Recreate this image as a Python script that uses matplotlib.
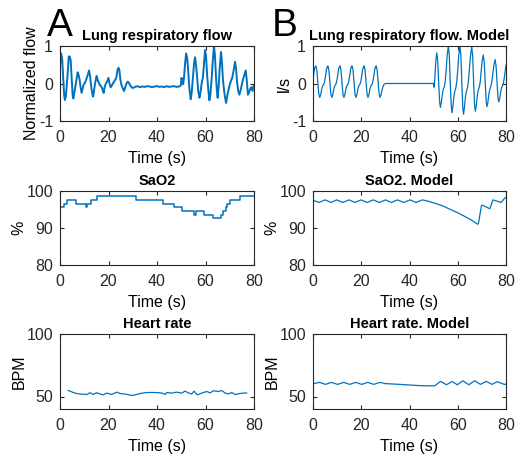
import matplotlib
matplotlib.use("Agg")
import matplotlib.pyplot as plt

# --- data ---
flow_meas_t = [0.0, 0.2, 0.5, 0.9, 1.3, 1.7, 2.0, 2.4, 2.8, 3.2, 3.6, 4.0, 4.4, 4.8, 5.2,
               5.5, 5.9, 6.4, 6.9, 7.3, 7.7, 8.1, 8.5, 8.9, 9.3, 9.8, 10.3, 10.8, 11.4,
               12.0, 12.4, 12.9, 13.4, 13.7, 14.1, 14.6, 15.1, 15.5, 16.0, 16.5, 17.0,
               17.5, 18.0, 18.4, 18.9, 19.4, 20.0, 20.4, 20.9, 21.4, 22.0, 22.6, 23.2,
               23.7, 24.1, 24.5, 24.9, 25.4, 26.0, 26.4, 26.9, 27.4, 27.9, 28.4, 29.0,
               29.5, 30.0, 31.0, 32.0, 33.0, 34.0, 35.0, 36.0, 37.0, 38.0, 39.0, 40.0,
               41.0, 42.0, 43.0, 44.0, 45.0, 46.0, 47.0, 48.0, 49.0, 49.5, 49.8, 50.1,
               50.4, 50.8, 51.2, 51.6, 52.0, 52.4, 52.8, 53.3, 53.9, 54.3, 54.8, 55.3,
               55.7, 56.1, 56.6, 57.0, 57.5, 57.9, 58.4, 58.9, 59.3, 59.8, 60.2, 60.7,
               61.2, 61.6, 62.0, 62.5, 63.0, 63.5, 63.9, 64.3, 64.7, 65.0, 65.4, 65.9,
               66.4, 66.8, 67.2, 67.6, 68.0, 68.5, 68.9, 69.4, 69.9, 70.4, 71.0, 71.6,
               72.2, 72.6, 73.0, 73.5, 74.0, 74.4, 74.9, 75.4, 75.9, 76.6, 77.0, 77.5,
               77.9, 78.4, 78.9, 79.4, 79.8, 80.0]
flow_meas_v = [0.35, 0.80, 0.80, 0.65, 0.15, -0.30, -0.44, -0.35, -0.05, 0.30, 0.72, 0.72,
               0.62, 0.15, -0.30, -0.40, -0.25, -0.05, 0.15, 0.30, 0.22, 0.10, -0.10,
               -0.25, -0.15, -0.02, 0.02, 0.10, 0.22, 0.35, 0.20, -0.10, -0.30, -0.35,
               -0.15, 0.05, 0.20, 0.10, 0.02, -0.05, -0.08, -0.15, -0.25, -0.10, 0.00,
               0.05, 0.15, 0.00, -0.10, -0.05, 0.02, 0.08, 0.15, 0.35, 0.42, 0.35, 0.10,
               -0.05, -0.15, -0.20, -0.10, 0.00, 0.05, 0.02, -0.05, -0.10, -0.12, -0.09,
               -0.07, -0.10, -0.08, -0.09, -0.07, -0.08, -0.10, -0.08, -0.07, -0.09,
               -0.08, -0.10, -0.07, -0.09, -0.08, -0.07, -0.09, -0.08, -0.07, -0.05,
               0.15, 0.05, -0.02, 0.20, 0.55, 0.80, 0.70, 0.40, -0.10, -0.42, -0.25,
               0.15, 0.55, 0.70, 0.50, 0.10, -0.20, -0.38, -0.25, 0.00, 0.15, 0.45,
               0.89, 0.75, 0.20, -0.20, -0.45, -0.30, 0.10, 0.60, 1.00, 0.75, 0.20,
               -0.20, -0.38, -0.10, 0.45, 0.84, 0.55, 0.10, -0.15, -0.35, -0.52, -0.35,
               -0.20, -0.05, 0.05, 0.15, 0.35, 0.58, 0.40, 0.05, -0.20, -0.30, -0.20,
               -0.05, 0.10, 0.20, 0.35, 0.10, -0.30, -0.25, -0.15, -0.10, -0.20, -0.08,
               -0.05]

flow_model_t = [0.0, 0.4, 0.8, 1.2, 1.6, 2.0, 2.4, 2.8, 3.2, 3.6, 4.0, 4.4, 4.8, 5.2, 5.6,
                6.0, 6.2, 6.6, 7.0, 7.4, 7.8, 8.2, 8.6, 9.0, 9.4, 9.8, 10.2, 10.6, 11.0,
                11.2, 11.6, 12.0, 12.4, 12.8, 13.2, 13.6, 14.0, 14.4, 14.8, 15.2, 15.6,
                16.0, 16.2, 16.6, 17.0, 17.4, 17.8, 18.2, 18.6, 19.0, 19.4, 19.8, 20.2,
                20.6, 21.0, 21.2, 21.6, 22.0, 22.4, 22.8, 23.2, 23.6, 24.0, 24.4, 24.8,
                25.2, 25.6, 26.0, 26.2, 26.6, 27.0, 27.4, 27.8, 28.2, 28.6, 29.0, 29.5,
                30.0, 50.0, 50.2, 50.5, 50.9, 51.3, 51.7, 52.1, 52.5, 52.8, 53.2, 53.6,
                54.0, 54.4, 54.8, 55.2, 55.6, 56.1, 56.5, 56.9, 57.3, 57.6, 58.0, 58.4,
                58.8, 59.2, 59.6, 60.0, 60.4, 60.9, 61.3, 61.7, 62.1, 62.4, 62.8, 63.2,
                63.6, 64.0, 64.4, 64.8, 65.3, 65.8, 66.2, 66.6, 67.0, 67.3, 67.7, 68.1,
                68.5, 68.9, 69.3, 69.7, 70.1, 70.6, 71.0, 71.4, 71.8, 72.1, 72.5, 72.9,
                73.3, 73.7, 74.1, 74.5, 75.0, 75.5, 75.9, 76.3, 76.7, 77.0, 77.4, 77.8,
                78.2, 78.6, 79.0, 79.4, 80.0]
flow_model_v = [0.10, 0.30, 0.44, 0.47, 0.35, 0.05, -0.28, -0.37, -0.30, -0.15, -0.06,
                -0.03, 0.05, 0.20, 0.38, 0.46, 0.47, 0.35, 0.05, -0.28, -0.37, -0.30,
                -0.15, -0.06, -0.03, 0.05, 0.20, 0.38, 0.46, 0.47, 0.35, 0.05, -0.28,
                -0.37, -0.30, -0.15, -0.06, -0.03, 0.05, 0.20, 0.38, 0.46, 0.47, 0.35,
                0.05, -0.28, -0.37, -0.30, -0.15, -0.06, -0.03, 0.05, 0.20, 0.38, 0.46,
                0.47, 0.35, 0.05, -0.28, -0.37, -0.30, -0.15, -0.06, -0.03, 0.05, 0.20,
                0.38, 0.46, 0.47, 0.35, 0.05, -0.28, -0.37, -0.30, -0.18, -0.08, -0.02,
                0.00, 0.00, -0.10, 0.15, 0.60, 0.82, 0.60, 0.00, -0.50, -0.64, -0.50,
                -0.30, -0.15, -0.10, 0.05, 0.35, 0.75, 1.00, 0.75, 0.00, -0.60, -0.78,
                -0.60, -0.35, -0.20, -0.12, 0.05, 0.35, 0.75, 1.00, 0.75, 0.00, -0.65,
                -0.82, -0.62, -0.35, -0.20, -0.12, 0.05, 0.35, 0.75, 0.98, 0.72, 0.00,
                -0.60, -0.74, -0.58, -0.32, -0.18, -0.10, 0.03, 0.30, 0.60, 0.76, 0.55,
                0.00, -0.50, -0.62, -0.50, -0.28, -0.15, -0.08, 0.03, 0.25, 0.50, 0.64,
                0.45, 0.00, -0.40, -0.49, -0.40, -0.22, -0.10, -0.05, 0.03, 0.20, 0.49]

sao2_meas_t = [0.0, 1.8, 3.0, 6.5, 10.7, 11.3, 12.6, 15.4, 31.3, 42.3, 47.1, 50.4, 55.4,
               56.1, 59.4, 63.2, 66.4, 67.4, 68.3, 68.7, 70.1, 74.2, 80.0]
sao2_meas_v = [95.6, 96.6, 97.6, 96.6, 95.6, 96.6, 97.6, 98.6, 97.6, 96.6, 95.6, 94.6,
               93.6, 94.6, 93.6, 92.6, 93.6, 94.6, 95.6, 96.6, 97.6, 98.6, 98.6]

sao2_model_t = [0.0, 2.5, 5.0, 7.5, 9.8, 12.4, 14.9, 17.4, 19.9, 22.5, 25.0, 27.5, 30.1,
                32.5, 35.0, 37.6, 40.2, 42.7, 45.3, 48.0, 51.0, 54.0, 57.0, 60.0, 63.0,
                66.0, 68.3, 68.6, 69.8, 70.2, 73.3, 74.6, 78.0, 79.4, 80.0]
sao2_model_v = [97.5, 96.9, 97.6, 96.9, 97.6, 96.9, 97.6, 96.9, 97.6, 96.9, 97.6, 96.9,
                97.6, 96.9, 97.6, 96.9, 97.6, 96.9, 97.6, 97.2, 96.6, 95.9, 95.0, 94.1,
                93.1, 92.0, 91.0, 91.3, 96.0, 96.2, 95.2, 97.6, 96.9, 98.0, 98.3]

hr_meas_t = [3.4, 6.2, 8.2, 11.0, 12.4, 13.7, 15.1, 16.5, 17.9, 19.2, 21.3, 23.4, 24.8,
             26.8, 29.6, 31.6, 33.0, 35.7, 38.5, 41.2, 42.6, 43.3, 44.0, 46.0, 48.1,
             50.2, 51.6, 52.9, 54.3, 55.3, 56.6, 58.4, 60.5, 61.9, 63.2, 65.3, 66.7,
             68.0, 69.4, 70.8, 72.2, 74.2, 76.3, 77.0]
hr_meas_v = [54.8, 52.7, 52.0, 51.6, 53.0, 51.6, 53.0, 52.0, 51.3, 52.7, 51.6, 53.5, 52.4,
             52.0, 50.8, 51.6, 52.4, 53.2, 53.2, 53.0, 52.4, 51.6, 53.2, 52.7, 53.5,
             52.7, 54.3, 52.9, 52.0, 54.3, 51.3, 52.7, 54.0, 52.9, 54.6, 54.0, 54.8,
             52.9, 52.0, 53.2, 51.6, 52.4, 52.9, 52.7]

hr_model_t = [0.0, 2.7, 5.2, 7.6, 10.2, 12.7, 15.2, 17.7, 20.2, 22.7, 25.2, 27.8, 30.0,
              35.0, 40.0, 45.0, 50.4, 52.9, 55.3, 57.6, 59.8, 62.1, 64.6, 67.0, 69.4,
              71.8, 74.2, 76.3, 79.3, 80.0]
hr_model_v = [60.2, 61.3, 59.7, 61.3, 59.7, 61.3, 59.7, 61.3, 59.7, 61.3, 59.7, 61.3, 60.3,
              59.8, 59.2, 58.6, 58.5, 62.1, 59.4, 62.0, 59.4, 62.6, 59.4, 62.6, 59.7,
              62.1, 59.7, 61.8, 59.7, 59.9]

line_color = "#0072BD"
axis_color = "#262626"

plt.rcParams["font.family"] = ["Liberation Sans", "DejaVu Sans"]
plt.rcParams["font.size"] = 11.5
plt.rcParams["axes.unicode_minus"] = False
plt.rcParams["axes.edgecolor"] = axis_color
plt.rcParams["axes.linewidth"] = 0.8
plt.rcParams["xtick.color"] = axis_color
plt.rcParams["ytick.color"] = axis_color
plt.rcParams["xtick.direction"] = "in"
plt.rcParams["ytick.direction"] = "in"
plt.rcParams["xtick.top"] = True
plt.rcParams["ytick.right"] = True
plt.rcParams["xtick.major.size"] = 3
plt.rcParams["ytick.major.size"] = 3

fig = plt.figure(figsize=(5.16, 4.62), dpi=100)

W, H = 516.0, 462.0


def make_axes(left, right, top, bottom):
    return fig.add_axes([left / W, 1 - bottom / H, (right - left) / W, (bottom - top) / H])


panels = [
    (make_axes(60, 254, 46, 121), flow_meas_t, flow_meas_v, "Lung respiratory flow",
     "Normalized flow", (-1, 1), [-1, 0, 1], 1.4),
    (make_axes(313, 506, 46, 121), flow_model_t, flow_model_v, "Lung respiratory flow. Model",
     "l/s", (-1, 1), [-1, 0, 1], 0.9),
    (make_axes(60, 254, 191, 265), sao2_meas_t, sao2_meas_v, "SaO2",
     "%", (80, 100), [80, 90, 100], 1.1),
    (make_axes(313, 506, 191, 265), sao2_model_t, sao2_model_v, "SaO2. Model",
     "%", (80, 100), [80, 90, 100], 0.9),
    (make_axes(60, 254, 334, 409), hr_meas_t, hr_meas_v, "Heart rate",
     "BPM", (40, 100), [50, 100], 0.9),
    (make_axes(313, 506, 334, 409), hr_model_t, hr_model_v, "Heart rate. Model",
     "BPM", (40, 100), [50, 100], 0.9),
]

for ax, t, v, title, ylabel, ylim, yticks, lw in panels:
    if title == "SaO2":
        ax.step(t, v, where="post", color=line_color, linewidth=lw)
    else:
        ax.plot(t, v, color=line_color, linewidth=lw)
    ax.set_xlim(0, 80)
    ax.set_ylim(*ylim)
    ax.set_xticks([0, 20, 40, 60, 80])
    ax.set_yticks(yticks)
    ax.set_title(title, fontsize=10.5, fontweight="bold", pad=4)
    ax.set_xlabel("Time (s)", labelpad=4)
    ax.set_ylabel(ylabel, labelpad=0)
    ax.tick_params(axis="x", labelsize=11.5, pad=6.5)
    ax.tick_params(axis="y", labelsize=11.5, pad=5)

fig.text(47 / W, 1 - 36 / H, "A", fontsize=28)
fig.text(272 / W, 1 - 36 / H, "B", fontsize=28)

fig.savefig("out.png", dpi=100)
